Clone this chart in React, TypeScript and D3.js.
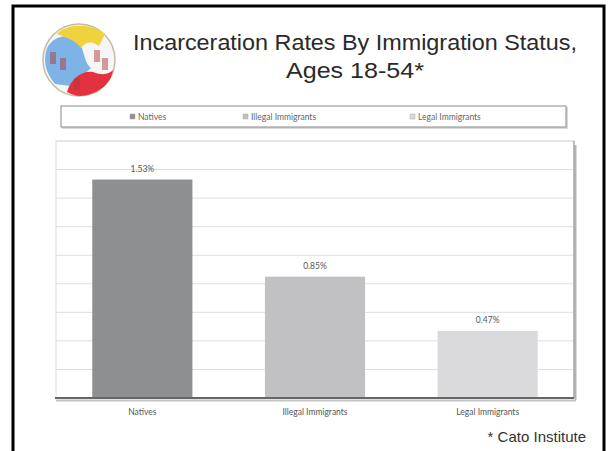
import {useEffect, useRef} from "react";
import * as d3 from 'd3';

// chart data
const categories = ['Natives', 'Illegal Immigrants', 'Legal Immigrants'];
const rates = [1.53, 0.85, 0.47];
const rateLabels = ['1.53%', '0.85%', '0.47%'];
const barColors = ['#8e8f91', '#c1c1c3', '#dadadc'];
const gridTicks = [0.2, 0.4, 0.6, 0.8, 1.0, 1.2, 1.4, 1.6, 1.8];
const titleLines = ['Incarceration Rates By Immigration Status,', 'Ages 18-54*'];
const titleWidths = [444, 138];
const footnote = '* Cato Institute';

export default function App() {
  const svgRef = useRef<SVGSVGElement>(null);
  const width = 611;
  const height = 451;

  useEffect(() => {
    d3.select(svgRef.current).selectAll('*').remove();

    const svg = d3.select(svgRef.current)
      .attr('width', width)
      .attr('height', height);

    svg.append('rect')
      .attr('width', width).attr('height', height)
      .attr('fill', '#fff');

    // slide frame
    svg.append('path')
      .attr('d', `M13,${height + 5} L13,6 L604,6 L604,${height + 5}`)
      .attr('fill', 'none')
      .attr('stroke', '#000')
      .attr('stroke-width', 3);

    // logo (rough emblem)
    const logo = svg.append('g').attr('transform', 'translate(79,60)');
    logo.append('circle').attr('r', 36).attr('fill', '#f6f6f6').attr('stroke', '#c9b9a0').attr('stroke-width', 1.5);
    logo.append('path')
      .attr('d', 'M-32,-12 C-24,-26 -10,-26 -2,-20 C6,-12 4,2 12,8 C6,14 -2,20 -8,26 L-24,24 C-34,12 -36,0 -32,-12 Z')
      .attr('fill', '#7db3e6');
    logo.append('path')
      .attr('d', 'M-22,-26 C-14,-36 12,-38 26,-26 L20,-14 C12,-20 6,-18 2,-12 C-4,-20 -12,-22 -22,-26 Z')
      .attr('fill', '#efd23c');
    logo.append('path')
      .attr('d', 'M-12,32 C-8,18 4,10 14,12 C24,16 30,14 34,10 C32,24 20,34 2,36 C-4,36 -8,34 -12,32 Z')
      .attr('fill', '#e3313e');
    [[-26, -2], [-16, 4], [18, -4], [26, 4], [-2, 24]].forEach(([cx, cy]) => {
      logo.append('rect').attr('x', cx - 3).attr('y', cy - 6).attr('width', 6).attr('height', 12)
        .attr('fill', '#b23a3a').attr('opacity', 0.5);
    });

    // title
    svg.append('text')
      .attr('text-anchor', 'middle')
      .attr('font-family', 'Liberation Sans, Arial, sans-serif')
      .attr('font-size', 21.5)
      .attr('fill', '#2a2a2a')
      .selectAll('tspan')
      .data(titleLines)
      .join('tspan')
      .attr('x', 355)
      .attr('y', (d, i) => 50 + i * 28)
      .attr('textLength', (d, i) => titleWidths[i])
      .attr('lengthAdjust', 'spacingAndGlyphs')
      .text(d => d);

    // legend box
    const legend = svg.append('g');
    legend.append('rect')
      .attr('x', 62).attr('y', 107).attr('width', 506).attr('height', 22)
      .attr('fill', '#d8d8d8');
    legend.append('rect')
      .attr('x', 61).attr('y', 106).attr('width', 505).attr('height', 21)
      .attr('fill', '#fff').attr('stroke', '#8a8a8a').attr('stroke-width', 1);
    const legendX = [130, 243, 410];
    categories.forEach((c, i) => {
      legend.append('rect')
        .attr('x', legendX[i]).attr('y', 114).attr('width', 5).attr('height', 5)
        .attr('fill', barColors[i]).attr('stroke', '#aaa').attr('stroke-width', 0.5);
      legend.append('text')
        .attr('x', legendX[i] + 8).attr('y', 119.5)
        .attr('font-family', 'Lato, Open Sans, sans-serif')
        .attr('font-size', 8.5)
        .attr('fill', '#666')
        .text(c);
    });

    // plot area
    const left = 56, right = 574, top = 141, bottom = 398;

    const x = d3.scaleBand()
      .domain(categories)
      .range([left, right])
      .paddingInner(0.42)
      .paddingOuter(0.21);

    const y = d3.scaleLinear()
      .domain([0, 1.8])
      .range([bottom, top]);

    const g = svg.append('g');

    g.append('rect')
      .attr('x', left).attr('y', top).attr('width', right - left).attr('height', bottom - top)
      .attr('fill', '#fff').attr('stroke', '#dcdcdc').attr('stroke-width', 1);

    g.selectAll('line.grid')
      .data(gridTicks)
      .join('line')
      .attr('class', 'grid')
      .attr('x1', left).attr('x2', right)
      .attr('y1', d => y(d)).attr('y2', d => y(d))
      .attr('stroke', '#dedede')
      .attr('stroke-width', 1);

    // right edge shadow
    g.append('line')
      .attr('x1', right + 1.5).attr('x2', right + 1.5)
      .attr('y1', top + 4).attr('y2', bottom + 2)
      .attr('stroke', '#b5b5b5').attr('stroke-width', 2);
    g.append('line')
      .attr('x1', right).attr('x2', right)
      .attr('y1', top).attr('y2', bottom)
      .attr('stroke', '#8a8a8a').attr('stroke-width', 1);

    g.selectAll('rect.bar')
      .data(rates)
      .join('rect')
      .attr('class', 'bar')
      .attr('x', (d, i) => x(categories[i]))
      .attr('y', d => y(d))
      .attr('width', x.bandwidth())
      .attr('height', d => y(0) - y(d))
      .attr('fill', (d, i) => barColors[i]);

    // axis line with shadow
    g.append('line')
      .attr('x1', left).attr('x2', right + 2)
      .attr('y1', bottom + 2.5).attr('y2', bottom + 2.5)
      .attr('stroke', '#c4c4c4').attr('stroke-width', 2);
    g.append('line')
      .attr('x1', left - 1).attr('x2', right)
      .attr('y1', bottom).attr('y2', bottom)
      .attr('stroke', '#666').attr('stroke-width', 2);

    // value labels
    g.selectAll('text.val')
      .data(rates)
      .join('text')
      .attr('class', 'val')
      .attr('x', (d, i) => x(categories[i]) + x.bandwidth() / 2)
      .attr('y', d => y(d) - 8)
      .attr('text-anchor', 'middle')
      .attr('font-family', 'Lato, Open Sans, sans-serif')
      .attr('font-size', 8.5)
      .attr('fill', '#555')
      .text((d, i) => rateLabels[i]);

    // category labels
    g.selectAll('text.cat')
      .data(categories)
      .join('text')
      .attr('class', 'cat')
      .attr('x', d => x(d) + x.bandwidth() / 2)
      .attr('y', 415)
      .attr('text-anchor', 'middle')
      .attr('font-family', 'Lato, Open Sans, sans-serif')
      .attr('font-size', 8.5)
      .attr('fill', '#555')
      .text(d => d);

    svg.append('text')
      .attr('x', 586).attr('y', 442)
      .attr('text-anchor', 'end')
      .attr('font-family', 'Liberation Sans, Arial, sans-serif')
      .attr('font-size', 15)
      .attr('fill', '#333')
      .text(footnote);
  }, []);

  return (
    <div style={{position: 'absolute', left: 0, top: 0}}>
      <svg ref={svgRef}></svg>
    </div>
  );
}
